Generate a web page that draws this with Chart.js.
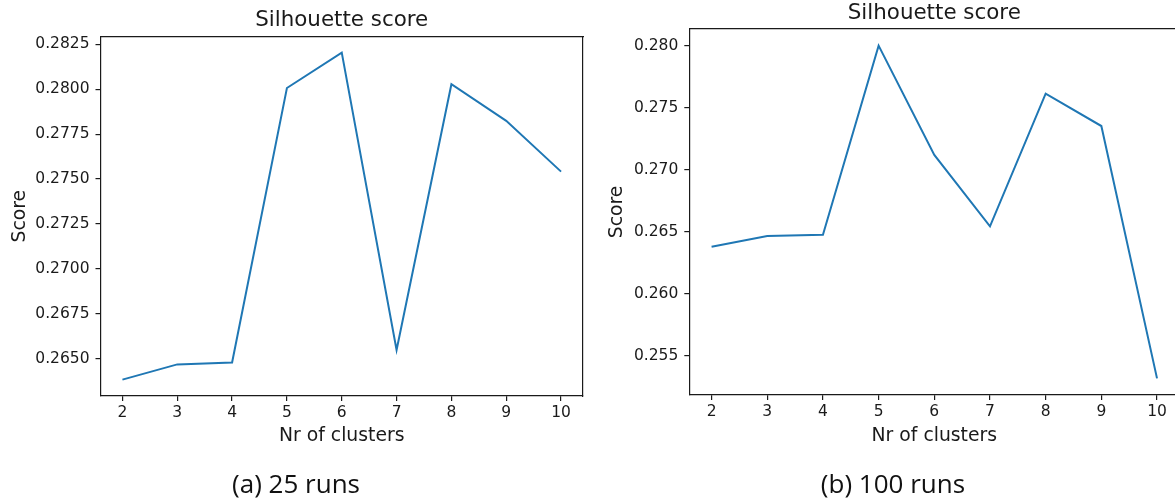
<!DOCTYPE html>
<html>
<head>
<meta charset="utf-8">
<script src="https://cdn.jsdelivr.net/npm/chart.js@4/dist/chart.umd.min.js"></script>
<style>
  html, body { margin: 0; padding: 0; background: #fff; overflow: hidden; }
  body { width: 1175px; height: 499px; position: relative; }
  canvas { position: absolute; top: 0; }
  #chartA { left: 0; }
  #chartB { left: 590px; }
  .caption {
    position: absolute; top: 467px; width: 300px; margin-left: -150px;
    text-align: center; font-family: "Open Sans", sans-serif; font-size: 26px;
    color: #111; line-height: 32px;
  }
</style>
</head>
<body>
<canvas id="chartA" width="590" height="499"></canvas>
<canvas id="chartB" width="600" height="499"></canvas>
<div class="caption" id="capA" style="left:296px"></div>
<div class="caption" id="capB" style="left:893px"></div>
<script>
// Number of clusters on the x axis
const clusters = [2, 3, 4, 5, 6, 7, 8, 9, 10];
// Silhouette score per cluster count
const score25runs = [0.26382, 0.26467, 0.26478, 0.28007, 0.28204, 0.26547, 0.28028, 0.27824, 0.27541];
const score100runs = [0.26379, 0.26465, 0.26476, 0.28000, 0.27119, 0.26543, 0.27613, 0.27352, 0.25318];
// Tick values
const yTicks25runs = [0.2650, 0.2675, 0.2700, 0.2725, 0.2750, 0.2775, 0.2800, 0.2825];
const yTicks100runs = [0.255, 0.260, 0.265, 0.270, 0.275, 0.280];
const xTicks = [2, 3, 4, 5, 6, 7, 8, 9, 10];
const chartTitle = 'Silhouette score';
const xLabel = 'Nr of clusters';
const yLabel = 'Score';
const captions = ['(a) 25 runs', '(b) 100 runs'];

document.getElementById('capA').textContent = captions[0];
document.getElementById('capB').textContent = captions[1];

const INK = '#1a1a1a';
const LINE = '#1f77b4';
const FONT = 'DejaVu Sans';

// 5% padding around the data range on both axes
function paddedRange(values) {
  const lo = Math.min(...values), hi = Math.max(...values);
  const m = (hi - lo) * 0.05;
  return [lo - m, hi + m];
}

function makeChart(id, values, yTicks, decimals, g) {
  const [ymin, ymax] = paddedRange(values);
  const [xmin, xmax] = paddedRange(clusters);
  const frame = { display: true, color: INK, width: 1.2 };
  return new Chart(document.getElementById(id), {
    type: 'line',
    data: {
      datasets: [{
        data: clusters.map((c, i) => ({ x: c, y: values[i] })),
        borderColor: LINE,
        borderWidth: 2,
        pointRadius: 0,
        tension: 0,
        fill: false
      }]
    },
    options: {
      responsive: false,
      animation: false,
      devicePixelRatio: 1,
      layout: { padding: { left: 0, top: 0, right: g.padRight, bottom: 39 } },
      plugins: {
        legend: { display: false },
        tooltip: { enabled: false },
        title: {
          display: true,
          text: chartTitle,
          fullSize: false,
          color: INK,
          font: { family: FONT, size: 21.4, weight: 'normal', lineHeight: 1.2 },
          padding: { top: g.titleTop, bottom: g.titleBottom }
        }
      },
      scales: {
        x: {
          type: 'linear',
          position: 'bottom',
          min: xmin, max: xmax,
          afterBuildTicks: s => { s.ticks = xTicks.map(v => ({ value: v })); },
          afterFit: s => { s.height = g.xHeight; },
          ticks: {
            autoSkip: false, maxRotation: 0, padding: 3, color: INK,
            font: { family: FONT, size: 15.5 },
            callback: v => String(v)
          },
          grid: { display: true, drawOnChartArea: false, drawTicks: true, tickLength: 5, color: INK, lineWidth: 1.2 },
          border: frame,
          title: {
            display: true, text: xLabel, color: INK,
            font: { family: FONT, size: 18.8, lineHeight: 1.2 },
            padding: { top: 0, bottom: 12.5 }
          }
        },
        y: {
          type: 'linear',
          position: 'left',
          min: ymin, max: ymax,
          afterBuildTicks: s => { s.ticks = yTicks.map(v => ({ value: v })); },
          afterFit: s => { s.width = g.yWidth; },
          ticks: {
            padding: 6, color: INK,
            font: { family: FONT, size: 15.5 },
            callback: v => v.toFixed(decimals)
          },
          grid: { display: true, drawOnChartArea: false, drawTicks: true, tickLength: 5, color: INK, lineWidth: 1.2 },
          border: frame,
          title: {
            display: true, text: yLabel, color: INK,
            font: { family: FONT, size: 18.8, lineHeight: 1.2 },
            padding: { top: g.yTitlePad, bottom: 0 }
          }
        },
        // top and right spines closing the frame
        xTop: {
          type: 'linear', position: 'top', display: true,
          afterFit: s => { s.height = 0; },
          ticks: { display: false }, grid: { display: false }, border: frame
        },
        yRight: {
          type: 'linear', position: 'right', display: true,
          afterFit: s => { s.width = 0; },
          ticks: { display: false }, grid: { display: false }, border: frame
        }
      }
    }
  });
}

makeChart('chartA', score25runs, yTicks25runs, 4,
  { yWidth: 100.5, padRight: 7, titleTop: 8, titleBottom: 2.6, xHeight: 64, yTitlePad: 9.3 });
makeChart('chartB', score100runs, yTicks100runs, 3,
  { yWidth: 99.3, padRight: 10.7, titleTop: 0.9, titleBottom: 2.4, xHeight: 65, yTitlePad: 16 });
</script>
</body>
</html>
